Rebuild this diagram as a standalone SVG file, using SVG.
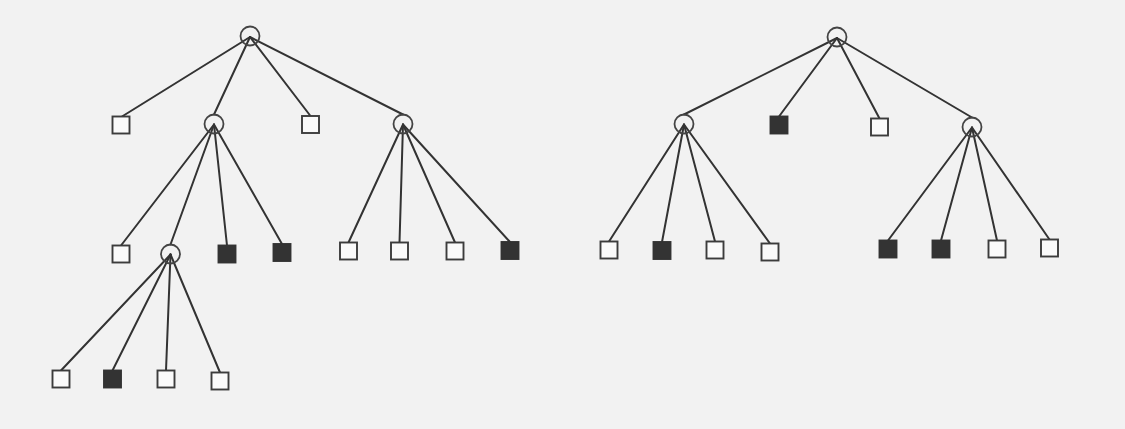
<svg xmlns="http://www.w3.org/2000/svg" width="1125" height="429" viewBox="0 0 1125 429">
<style>
.bg{fill:#f2f2f2}
.edge{stroke:#333;stroke-width:2;fill:none;stroke-linecap:round}
.chance{fill:none;stroke:#444;stroke-width:1.8}
.open{fill:#fafafa;stroke:#3c3c3c;stroke-width:1.9}
.solid{fill:#333;stroke:#333;stroke-width:1.9}
</style>
<rect class="bg" x="0" y="0" width="1125" height="429"/>
<g id="connectors">
<line class="edge" x1="250" y1="37" x2="122" y2="116.5"/>
<line class="edge" x1="250" y1="37" x2="214" y2="114.5"/>
<line class="edge" x1="250" y1="37" x2="310.5" y2="116"/>
<line class="edge" x1="250" y1="37" x2="403" y2="114.5"/>
<line class="edge" x1="214" y1="124.5" x2="121" y2="245.5"/>
<line class="edge" x1="214" y1="124.5" x2="170.5" y2="244.5"/>
<line class="edge" x1="214" y1="124.5" x2="227" y2="245.5"/>
<line class="edge" x1="214" y1="124.5" x2="282" y2="244"/>
<line class="edge" x1="403" y1="124.5" x2="348.5" y2="242.5"/>
<line class="edge" x1="403" y1="124.5" x2="399.5" y2="242.5"/>
<line class="edge" x1="403" y1="124.5" x2="455" y2="242.5"/>
<line class="edge" x1="403" y1="124.5" x2="510" y2="242"/>
<line class="edge" x1="170.5" y1="254.5" x2="61" y2="370.5"/>
<line class="edge" x1="170.5" y1="254.5" x2="112.5" y2="370.5"/>
<line class="edge" x1="170.5" y1="254.5" x2="166" y2="370.5"/>
<line class="edge" x1="170.5" y1="254.5" x2="220" y2="372.5"/>
<line class="edge" x1="837" y1="38" x2="684" y2="114.5"/>
<line class="edge" x1="837" y1="38" x2="779" y2="116.5"/>
<line class="edge" x1="837" y1="38" x2="879.5" y2="118.5"/>
<line class="edge" x1="837" y1="38" x2="972" y2="117.5"/>
<line class="edge" x1="684" y1="124.5" x2="609" y2="241.5"/>
<line class="edge" x1="684" y1="124.5" x2="662" y2="242"/>
<line class="edge" x1="684" y1="124.5" x2="715" y2="241.5"/>
<line class="edge" x1="684" y1="124.5" x2="770" y2="243.5"/>
<line class="edge" x1="972" y1="127.5" x2="888" y2="240.5"/>
<line class="edge" x1="972" y1="127.5" x2="941" y2="240.5"/>
<line class="edge" x1="972" y1="127.5" x2="997" y2="240.5"/>
<line class="edge" x1="972" y1="127.5" x2="1049.5" y2="239.5"/>
</g>
<g id="L-root"><circle class="chance" cx="250" cy="36" r="9.5"/></g>
<g id="L-a"><rect class="open" x="112.5" y="116.5" width="17" height="17"/></g>
<g id="L-b"><circle class="chance" cx="214" cy="124" r="9.5"/></g>
<g id="L-c"><rect class="open" x="302" y="116" width="17" height="17"/></g>
<g id="L-d"><circle class="chance" cx="403" cy="124" r="9.5"/></g>
<g id="L-b1"><rect class="open" x="112.5" y="245.5" width="17" height="17"/></g>
<g id="L-e"><circle class="chance" cx="170.5" cy="254" r="9.5"/></g>
<g id="L-b3"><rect class="solid" x="218.5" y="245.5" width="17" height="17"/></g>
<g id="L-b4"><rect class="solid" x="273.5" y="244" width="17" height="17"/></g>
<g id="L-d1"><rect class="open" x="340" y="242.5" width="17" height="17"/></g>
<g id="L-d2"><rect class="open" x="391" y="242.5" width="17" height="17"/></g>
<g id="L-d3"><rect class="open" x="446.5" y="242.5" width="17" height="17"/></g>
<g id="L-d4"><rect class="solid" x="501.5" y="242" width="17" height="17"/></g>
<g id="L-e1"><rect class="open" x="52.5" y="370.5" width="17" height="17"/></g>
<g id="L-e2"><rect class="solid" x="104" y="370.5" width="17" height="17"/></g>
<g id="L-e3"><rect class="open" x="157.5" y="370.5" width="17" height="17"/></g>
<g id="L-e4"><rect class="open" x="211.5" y="372.5" width="17" height="17"/></g>
<g id="R-root"><circle class="chance" cx="837" cy="37" r="9.5"/></g>
<g id="R-f"><circle class="chance" cx="684" cy="124" r="9.5"/></g>
<g id="R-b"><rect class="solid" x="770.5" y="116.5" width="17" height="17"/></g>
<g id="R-c"><rect class="open" x="871" y="118.5" width="17" height="17"/></g>
<g id="R-g"><circle class="chance" cx="972" cy="127" r="9.5"/></g>
<g id="R-f1"><rect class="open" x="600.5" y="241.5" width="17" height="17"/></g>
<g id="R-f2"><rect class="solid" x="653.5" y="242" width="17" height="17"/></g>
<g id="R-f3"><rect class="open" x="706.5" y="241.5" width="17" height="17"/></g>
<g id="R-f4"><rect class="open" x="761.5" y="243.5" width="17" height="17"/></g>
<g id="R-g1"><rect class="solid" x="879.5" y="240.5" width="17" height="17"/></g>
<g id="R-g2"><rect class="solid" x="932.5" y="240.5" width="17" height="17"/></g>
<g id="R-g3"><rect class="open" x="988.5" y="240.5" width="17" height="17"/></g>
<g id="R-g4"><rect class="open" x="1041" y="239.5" width="17" height="17"/></g>
</svg>
